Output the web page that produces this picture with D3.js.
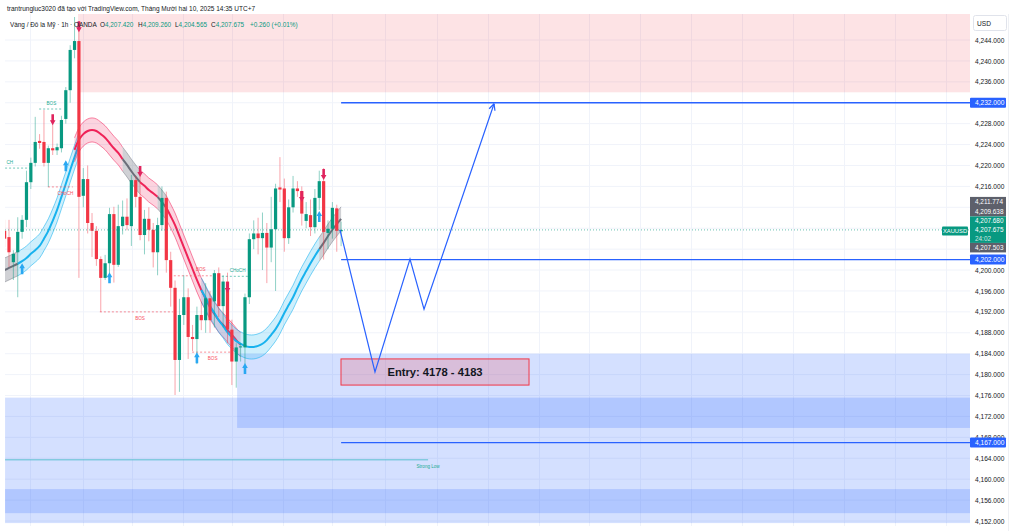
<!DOCTYPE html>
<html><head><meta charset="utf-8">
<script src="https://cdn.jsdelivr.net/npm/d3@7"></script>
<style>body{margin:0;background:#fff;} svg{display:block;font-family:"Liberation Sans",Arial,sans-serif;}</style>
</head><body><svg id="c" width="1015" height="531"></svg>
<script>
// ---------- DATA ----------
const priceTicks = d3.range(4152, 4245, 4);
const gridIdx = [4.8, 16.9, 28.1, 39.8, 51, 62.7, 73.9, 86, 97.9, 109.5, 121.2, 132.8, 144.5, 156.1, 167.8, 179.4, 191.1, 202.7, 214.4];
const candleStartIdx = -1;
const openP  = [4207.5,4206.3,4201.5,4203.4,4207.3,4209.6,4216.8,4220.5,4224.7,4224.5,4220.5,4223.3,4222.9,4223.3,4228.9,4234.4,4242.1,4243.8,4214.2,4217.4,4209.0,4207.5,4202.1,4198.5,4201.3,4210.7,4201.0,4208.4,4210.2,4208.4,4217.2,4214.0,4206.7,4209.8,4207.7,4203.4,4208.6,4213.8,4201.9,4196.6,4182.8,4191.4,4194.8,4187.2,4186.8,4191.4,4190.4,4194.6,4194.0,4199.4,4193.1,4197.8,4188.6,4182.5,4185.2,4185.2,4194.8,4205.9,4207.0,4206.1,4207.1,4204.3,4207.8,4215.8,4215.6,4206.1,4212.0,4215.6,4215.1,4209.4,4210.5,4208.2,4213.8,4217.0,4207.1,4207.9,4211.8,4207.42];
const highP  = [4209.6,4209.6,4203.8,4210.1,4210.5,4219.0,4221.5,4229.3,4226.0,4230.6,4223.8,4228.5,4224.2,4229.5,4235.0,4243.0,4248.4,4246.5,4219.5,4220.0,4210.9,4208.4,4202.6,4202.9,4211.9,4212.1,4212.5,4213.3,4213.7,4218.2,4218.0,4218.4,4211.5,4212.0,4209.0,4210.0,4216.0,4215.0,4203.5,4198.0,4194.5,4199.0,4196.5,4189.5,4193.0,4194.0,4197.5,4196.0,4200.0,4200.5,4199.0,4199.5,4190.5,4186.0,4186.0,4195.5,4207.0,4209.5,4210.0,4211.0,4209.0,4214.0,4216.5,4221.6,4217.5,4213.5,4218.0,4217.0,4216.0,4213.0,4213.5,4215.5,4219.0,4219.5,4209.5,4213.0,4212.5,4209.26];
const lowP   = [4204.4,4200.6,4198.1,4194.8,4206.0,4208.2,4215.5,4219.8,4223.2,4219.8,4215.9,4222.0,4222.0,4222.5,4228.0,4232.0,4240.5,4198.5,4212.0,4207.0,4202.5,4200.8,4192.0,4198.1,4199.4,4197.6,4200.6,4206.8,4207.6,4204.6,4212.0,4205.7,4203.0,4205.5,4200.5,4199.0,4207.5,4199.5,4193.0,4176.1,4176.7,4189.5,4183.0,4184.5,4182.0,4188.5,4188.0,4188.0,4189.0,4191.0,4189.0,4186.0,4178.0,4177.5,4182.5,4182.0,4193.5,4204.0,4203.0,4200.0,4197.5,4201.5,4196.0,4213.0,4203.5,4205.0,4211.0,4214.0,4208.5,4208.0,4206.5,4207.0,4211.5,4202.0,4204.0,4206.0,4203.5,4204.565];
const closeP = [4206.0,4203.4,4203.1,4207.3,4209.6,4216.8,4220.5,4224.5,4224.3,4220.5,4223.3,4222.9,4223.5,4228.7,4234.4,4242.1,4243.8,4214.0,4217.4,4209.0,4207.5,4202.1,4198.5,4201.3,4210.7,4201.0,4208.4,4210.2,4208.6,4217.2,4214.0,4206.7,4209.8,4207.7,4203.4,4208.6,4213.8,4201.9,4196.6,4182.8,4191.4,4194.8,4187.2,4186.8,4191.4,4190.4,4194.6,4190.4,4199.4,4193.1,4197.8,4188.6,4182.5,4185.2,4185.4,4194.8,4205.9,4207.0,4206.1,4207.1,4204.3,4207.8,4215.6,4215.4,4206.1,4212.0,4215.6,4215.1,4210.8,4210.7,4208.2,4213.8,4217.0,4207.3,4207.9,4211.9,4207.5,4207.675];

// trend ribbon (centre values)
const riseAStart = -1;
const riseA = [4200.0,4200.4,4200.8,4201.2,4201.7,4202.3,4203.1,4203.8,4204.6,4206.0,4207.5,4209.4,4211.5,4214.0,4216.5,4219.1,4221.6,4223.9];
const riseAGray = [[-1,2]];
const fallStart = 15;
const fall = [4223.0,4224.9,4226.0,4226.6,4226.8,4226.6,4226.0,4225.3,4224.3,4223.3,4222.4,4221.2,4220.1,4218.9,4217.8,4216.8,4216.1,4215.3,4214.7,4214.0,4213.0,4211.9,4210.3,4208.6,4206.5,4204.4,4202.3,4200.2,4198.1,4196.2,4194.5,4192.9,4191.6,4190.4,4189.5,4188.5,4187.6,4186.6,4185.7];
const fallGray = [[26,30],[34,36]];
const riseBStart = 44;
const riseB = [4196.2,4194.7,4193.1,4191.8,4190.4,4189.3,4188.1,4187.2,4186.4,4185.9,4185.5,4185.3,4185.3,4185.5,4185.9,4186.6,4187.6,4188.7,4190.1,4191.8,4193.3,4194.8,4196.6,4198.3,4199.8,4201.3,4202.7,4204.0,4205.2,4206.5,4207.7,4208.8,4209.8];
const riseBGray = [[71,76]];
const bandHalf = 2.3;

// zones
const zoneKind  = ['supply','demand','demand','demand'];
const zoneFrom  = [15.8, 52.2, -0.9, -0.9];
const zoneTop   = [4249, 4184.0, 4175.6, 4158.1];
const zoneBot   = [4234.0, 4169.8, 4151.6, 4153.5];

// signals
const sellIdx = [10, 16, 30, 50, 67, 72];
const sellTip = [4227.7, 4245.5, 4217.8, 4195.6, 4213.0, 4217.2];
const buyIdx  = [3, 13, 23, 43, 54, 71];
const buyTip  = [4201.3, 4221.0, 4199.6, 4184.3, 4182.2, 4211.3];

// structure labels
const structLabel = ['BOS','CH','CHoCH','BOS','BOS','CHoCH','BOS'];
const structBull  = [true, true, false, false, false, true, false];
const structAbove = [true, true, false, false, true, true, false];
const structFrom  = [6.9, -0.9, 8.9, 20.8, 36.8, 48.7, 41.9];
const structTo    = [12.4, 4.8, 14.6, 37.5, 48.7, 54.7, 50.6];
const structLabelAt = [9.7, 0.2, 12.9, 30.0, 43.9, 52.3, 46.6];
const structLevel = [4230.8, 4219.5, 4215.9, 4192.0, 4198.9, 4198.8, 4184.3];

// plan
const levelValues = [4232, 4202, 4167];
const levelFrom = 76;
const pathIdx = [75.74, 83.75, 91.76, 94.97, 111];
const pathVal = [4207.7, 4180.5, 4202.1, 4192.5, 4231.8];
const entryFrom = 75.97, entryTo = 119, entryLow = 4178, entryHigh = 4183;
const entryText = 'Entry: 4178 - 4183';
const strongLow = 4163.7, strongFrom = -0.9, strongTo = 95.9;

const curPrice = 4207.675;
const stackTexts = ['4,211.774','4,209.638','4,207.680','4,207.675','24:02','4,207.503'];

// ---------- SETUP ----------
const svg = d3.select('#c');
const P = {left:5, right:970, top:14, bottom:526};
const x = d3.scaleLinear().domain([0,75]).range([9,336.75]);
const y = d3.scaleLinear().domain([4152,4244]).range([521,40]);
const GREEN='#089981', RED='#f23645', BLUE='#2962ff';

svg.append('defs').append('clipPath').attr('id','clip')
  .append('rect').attr('x',P.left).attr('y',P.top).attr('width',P.right-P.left).attr('height',P.bottom-P.top);
const g = svg.append('g').attr('clip-path','url(#clip)');

// grid
g.selectAll('.hg').data(priceTicks).enter().append('line')
  .attr('x1',P.left).attr('x2',P.right).attr('y1',d=>y(d)).attr('y2',d=>y(d))
  .attr('stroke','#f0f3fa').attr('stroke-width',1);
g.selectAll('.vg').data(gridIdx).enter().append('line')
  .attr('x1',d=>Math.round(x(d))+0.5).attr('x2',d=>Math.round(x(d))+0.5).attr('y1',P.top).attr('y2',P.bottom)
  .attr('stroke','#f0f3fa').attr('stroke-width',1);

// zones
zoneKind.forEach((k,i)=>{
  g.append('rect').attr('x',x(zoneFrom[i])).attr('y',y(zoneTop[i]))
   .attr('width',P.right-x(zoneFrom[i])).attr('height',y(zoneBot[i])-y(zoneTop[i]))
   .attr('fill', k==='supply' ? 'rgba(242,54,69,0.14)' : 'rgba(41,98,255,0.2)');
});

// ribbon
const palette = {
  up:{fill:'rgba(33,181,240,0.22)',edge:'rgba(33,181,240,0.75)',mid:'#18b2ee'},
  down:{fill:'rgba(242,40,95,0.2)',edge:'rgba(242,40,95,0.7)',mid:'#ef2358'},
  gray:{fill:'rgba(110,113,124,0.32)',edge:'rgba(110,113,124,0.6)',mid:'#6b6e79'}
};
function drawRibbon(start, vals, base, grays){
  const pts = vals.map((v,k)=>({i:start+k, v}));
  const isGray = i => grays.some(r=>i>=r[0] && i<r[1]);
  const runs=[]; let cur=null;
  pts.forEach((p,k)=>{
    const c = isGray(p.i)?'gray':base;
    if(!cur || cur.c!==c){ if(cur) cur.pts.push(p); cur={c,pts:[]}; runs.push(cur); }
    cur.pts.push(p);
  });
  const area = d3.area().x(d=>x(d.i)).y0(d=>y(d.v-bandHalf)).y1(d=>y(d.v+bandHalf)).curve(d3.curveCatmullRom);
  const lineU = d3.line().x(d=>x(d.i)).y(d=>y(d.v+bandHalf)).curve(d3.curveCatmullRom);
  const lineL = d3.line().x(d=>x(d.i)).y(d=>y(d.v-bandHalf)).curve(d3.curveCatmullRom);
  const lineM = d3.line().x(d=>x(d.i)).y(d=>y(d.v)).curve(d3.curveCatmullRom);
  runs.forEach(r=>{
    const c = palette[r.c];
    g.append('path').attr('d',area(r.pts)).attr('fill',c.fill);
    g.append('path').attr('d',lineU(r.pts)).attr('fill','none').attr('stroke',c.edge).attr('stroke-width',0.8);
    g.append('path').attr('d',lineL(r.pts)).attr('fill','none').attr('stroke',c.edge).attr('stroke-width',0.8);
    g.append('path').attr('d',lineM(r.pts)).attr('fill','none').attr('stroke',c.mid).attr('stroke-width',2);
  });
}
drawRibbon(riseAStart, riseA, 'up', riseAGray);
drawRibbon(fallStart, fall, 'down', fallGray);
drawRibbon(riseBStart, riseB, 'up', riseBGray);

// structure lines
structLabel.forEach((t,i)=>{
  const col = structBull[i] ? '#22ab94' : '#f7525f';
  const yy = y(structLevel[i]);
  g.append('line').attr('x1',x(structFrom[i])).attr('x2',x(structTo[i])).attr('y1',yy).attr('y2',yy)
    .attr('stroke',col).attr('stroke-width',0.8).attr('stroke-dasharray','2,2').attr('opacity',0.8);
  g.append('text').attr('x',x(structLabelAt[i])).attr('y', structAbove[i]? yy-4.5 : yy+8)
    .attr('text-anchor','middle').attr('font-size',4.6).attr('fill',col).text(t);
});

// strong low
g.append('line').attr('x1',x(strongFrom)).attr('x2',x(strongTo)).attr('y1',y(strongLow)).attr('y2',y(strongLow))
  .attr('stroke','#5bbfd0').attr('stroke-width',1);
g.append('text').attr('x',x(strongTo)).attr('y',y(strongLow)+8).attr('text-anchor','middle')
  .attr('font-size',4.6).attr('fill','#22ab94').text('Strong Low');

// candles
const candles = openP.map((o,k)=>({i:candleStartIdx+k,o,h:highP[k],l:lowP[k],c:closeP[k]}));
const cg = g.append('g');
cg.selectAll('.wick').data(candles).enter().append('line')
  .attr('x1',d=>x(d.i)).attr('x2',d=>x(d.i)).attr('y1',d=>y(d.h)).attr('y2',d=>y(d.l))
  .attr('stroke',d=>d.c>=d.o?GREEN:RED).attr('stroke-opacity',0.45).attr('stroke-width',1);
cg.selectAll('.body').data(candles).enter().append('rect')
  .attr('x',d=>x(d.i)-1.6).attr('width',3.2)
  .attr('y',d=>y(Math.max(d.o,d.c))).attr('height',d=>Math.max(1,Math.abs(y(d.o)-y(d.c))))
  .attr('fill',d=>d.c>=d.o?GREEN:RED);

// signal arrows
function arrow(cx, tipY, dir, col){
  const s = dir;
  const pts = [[cx,tipY],[cx-2.8,tipY-5*s],[cx-1.3,tipY-5*s],[cx-1.3,tipY-11*s],[cx+1.3,tipY-11*s],[cx+1.3,tipY-5*s],[cx+2.8,tipY-5*s]];
  g.append('path').attr('d','M'+pts.map(p=>p.join(',')).join('L')+'Z').attr('fill',col);
}
sellIdx.forEach((ii,k)=>arrow(x(ii), y(sellTip[k]), 1, '#e0245e'));
buyIdx.forEach((ii,k)=>arrow(x(ii), y(buyTip[k]), -1, '#2aa8f2'));

// current price dotted line
g.append('line').attr('x1',P.left).attr('x2',P.right).attr('y1',y(curPrice)).attr('y2',y(curPrice))
  .attr('stroke',GREEN).attr('stroke-width',1).attr('stroke-dasharray','1,2').attr('opacity',0.6);

// levels
g.selectAll('.lvl').data(levelValues).enter().append('line')
  .attr('x1',x(levelFrom)).attr('x2',P.right).attr('y1',d=>y(d)).attr('y2',d=>y(d))
  .attr('stroke',BLUE).attr('stroke-width',1.3);

// entry box
g.append('rect').attr('x',x(entryFrom)).attr('y',y(entryHigh)).attr('width',x(entryTo)-x(entryFrom))
  .attr('height',y(entryLow)-y(entryHigh)).attr('fill','rgba(242,54,69,0.2)').attr('stroke','#f23645').attr('stroke-width',1);
g.append('text').attr('x',(x(entryFrom)+x(entryTo))/2).attr('y',(y(entryLow)+y(entryHigh))/2+4)
  .attr('text-anchor','middle').attr('font-size',11.2).attr('font-weight','bold').attr('fill','#131722').text(entryText);

// projected path
const pts = pathIdx.map((ii,k)=>[x(ii), y(pathVal[k])]);
g.append('path').attr('d',d3.line()(pts)).attr('fill','none').attr('stroke',BLUE).attr('stroke-width',1.2);
const a = pts[pts.length-1], b = pts[pts.length-2];
const ang = Math.atan2(a[1]-b[1], a[0]-b[0]);
[0.45,-0.45].forEach(da=>{
  g.append('line').attr('x1',a[0]).attr('y1',a[1])
   .attr('x2',a[0]-7*Math.cos(ang+da)).attr('y2',a[1]-7*Math.sin(ang+da))
   .attr('stroke',BLUE).attr('stroke-width',1.2);
});

// ---------- AXIS ----------
const cy = y(curPrice);
svg.append('line').attr('x1',1008.5).attr('x2',1008.5).attr('y1',P.top).attr('y2',531).attr('stroke','#eef0f4');
const covered = v => levelValues.some(l=>Math.abs(y(v)-y(l))<4.5) || (y(v)>cy-34 && y(v)<cy+23);
const ax = svg.append('g').attr('transform',`translate(${P.right},0)`)
  .call(d3.axisRight(y).tickValues(priceTicks.filter(v=>!covered(v))).tickFormat(d3.format(',.3f')).tickSize(0).tickPadding(5));
ax.select('.domain').remove();
ax.selectAll('text').attr('font-size',6.6).attr('fill','#131722').attr('font-family','Liberation Sans, Arial, sans-serif');

// USD box
svg.append('rect').attr('x',973.5).attr('y',15.5).attr('width',33).attr('height',15).attr('rx',2)
  .attr('fill','#fff').attr('stroke','#e0e3eb');
svg.append('text').attr('x',977).attr('y',26).attr('font-size',6.6).attr('fill','#131722').text('USD');

// level labels
levelValues.forEach(v=>{
  svg.append('rect').attr('x',P.right).attr('y',y(v)-5).attr('width',36).attr('height',10).attr('rx',1).attr('fill',BLUE);
  svg.append('text').attr('x',P.right+5).attr('y',y(v)+2.4).attr('font-size',6.6).attr('fill','#fff').text(d3.format(',.3f')(v));
});

// price stack
svg.append('rect').attr('x',P.right).attr('y',cy-33).attr('width',36).attr('height',19.5).attr('fill','#5d606b');
svg.append('rect').attr('x',P.right).attr('y',cy-13.5).attr('width',36).attr('height',26.5).attr('fill',GREEN);
svg.append('rect').attr('x',P.right).attr('y',cy+13).attr('width',36).attr('height',9.5).attr('fill','#5d606b');
const stackOff = [-28,-18.5,-9,0,8.5,17.5];
stackTexts.forEach((t,k)=>{
  svg.append('text').attr('x',P.right+5).attr('y',cy+stackOff[k]+2.3).attr('font-size',6.4)
    .attr('fill', k===4 ? 'rgba(255,255,255,0.8)' : '#fff').text(t);
});
svg.append('rect').attr('x',942).attr('y',cy-3.5).attr('width',26).attr('height',9).attr('rx',1).attr('fill',GREEN);
svg.append('text').attr('x',955).attr('y',cy+3).attr('text-anchor','middle').attr('font-size',5.8).attr('fill','#fff').text('XAUUSD');

// ---------- HEADER ----------
svg.append('text').attr('x',7).attr('y',10.5).attr('font-size',6.5).attr('fill','#131722')
  .text('trantrungluc3020 đã tạo với TradingView.com, Tháng Mười hai 10, 2025 14:35 UTC+7');
const hdr = svg.append('text').attr('y',26.5).attr('font-size',6.4).attr('fill','#131722');
const hdrParts = [
  {x:10, t:'Vàng / Đô la Mỹ · 1h · OANDA', c:'#131722'},
  {x:100, t:'O', c:'#131722'},{t:'4,207.420', c:GREEN},
  {x:138, t:'H', c:'#131722'},{t:'4,209.260', c:GREEN},
  {x:175, t:'L', c:'#131722'},{t:'4,204.565', c:GREEN},
  {x:211, t:'C', c:'#131722'},{t:'4,207.675', c:GREEN},
  {x:250, t:'+0.260 (+0.01%)', c:GREEN}
];
hdrParts.forEach(p=>{
  const ts = hdr.append('tspan').attr('fill',p.c).text(p.t);
  if(p.x!==undefined) ts.attr('x',p.x);
});
</script></body></html>
